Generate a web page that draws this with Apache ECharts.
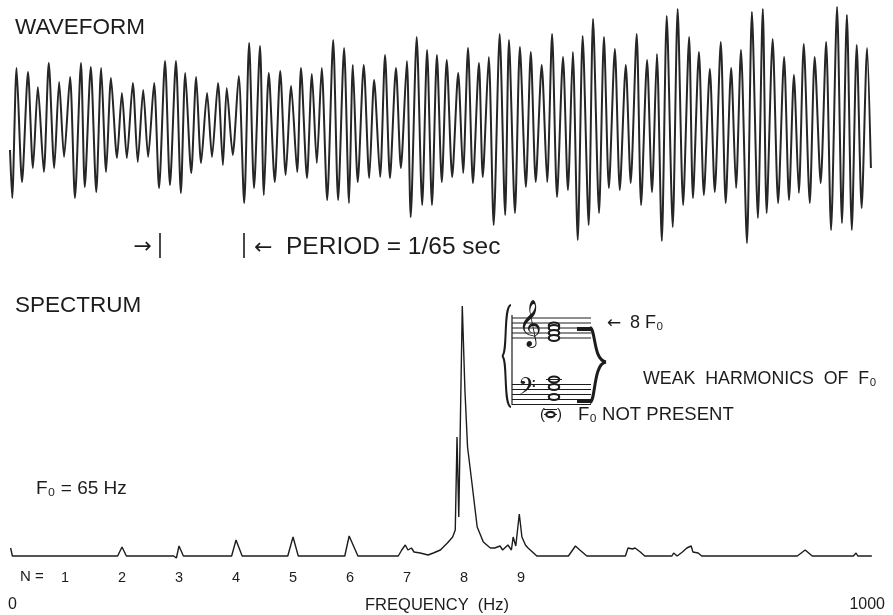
<!DOCTYPE html>
<html>
<head>
<meta charset="utf-8">
<script src="https://cdn.jsdelivr.net/npm/echarts@6/dist/echarts.min.js"></script>
<style>
  html, body { margin: 0; padding: 0; background: #ffffff; }
  #chart { width: 893px; height: 615px; }
</style>
</head>
<body>
<div id="chart"></div>
<script>
// ---- Waveform: successive peaks and troughs of the sung tone ----
// time in milliseconds, amplitude in relative units
const waveTime = [
  0.0, 0.4, 1.2, 2.2, 3.3, 4.2, 5.1, 6.2, 7.1, 8.1,
  9.0, 9.9, 11.0, 11.9, 13.0, 13.7, 14.8, 15.8, 16.7, 17.6,
  18.5, 19.6, 20.5, 21.4, 22.5, 23.4, 24.4, 25.3, 26.4, 27.3,
  28.4, 29.3, 30.4, 31.3, 32.1, 33.2, 34.1, 35.0, 36.1, 37.0,
  38.1, 39.0, 39.7, 40.8, 41.9, 42.9, 43.8, 44.7, 45.8, 46.5,
  47.4, 48.5, 49.5, 50.5, 51.5, 52.6, 53.3, 54.4, 55.3, 56.2,
  57.1, 58.1, 59.2, 60.1, 61.2, 62.1, 62.8, 63.7, 64.8, 65.8,
  66.7, 67.8, 68.7, 69.6, 70.7, 71.6, 72.7, 73.4, 74.5, 75.5,
  76.4, 77.3, 78.2, 79.1, 80.0, 81.0, 82.1, 83.0, 83.9, 84.8,
  85.9, 86.6, 87.7, 88.6, 89.7, 90.7, 91.4, 92.5, 93.4, 94.5,
  95.4, 96.3, 97.4, 98.4, 99.3, 100.2, 101.3, 102.2, 103.1, 104.0,
  104.9, 106.0, 106.8, 107.9, 108.8, 109.7, 110.8, 111.7, 112.8, 113.7,
  114.8, 115.6, 116.7, 117.6, 118.5, 119.4, 120.3, 121.4, 122.3, 123.3,
  124.4, 125.1, 126.2, 127.1, 128.2, 129.1, 130.2, 131.1, 132.1, 133.0,
  133.9, 135.0, 135.9, 137.0, 137.9, 138.6, 139.7, 140.7, 141.8, 142.7,
  143.6, 144.5, 145.4, 146.5, 147.4, 148.5, 149.5, 150.4, 151.5, 152.4,
  153.3, 154.2, 155.1, 156.0, 157.0, 157.7
];
const waveAmp = [
  -0.22, -0.70, 0.60, -0.54, 0.56, -0.40, 0.41, -0.44, 0.65, -0.40,
  0.46, -0.29, 0.51, -0.70, 0.65, -0.59, 0.61, -0.64, 0.60, -0.44,
  0.50, -0.30, 0.35, -0.30, 0.45, -0.34, 0.38, -0.29, 0.45, -0.60,
  0.67, -0.57, 0.67, -0.65, 0.55, -0.45, 0.51, -0.35, 0.35, -0.29,
  0.45, -0.37, 0.40, -0.27, 0.52, -0.75, 0.85, -0.60, 0.82, -0.67,
  0.55, -0.54, 0.57, -0.47, 0.42, -0.44, 0.60, -0.50, 0.54, -0.35,
  0.60, -0.72, 0.88, -0.72, 0.80, -0.75, 0.63, -0.54, 0.63, -0.50,
  0.48, -0.49, 0.73, -0.50, 0.60, -0.40, 0.67, -0.89, 0.91, -0.77,
  0.78, -0.77, 0.73, -0.54, 0.68, -0.49, 0.55, -0.45, 0.80, -0.55,
  0.65, -0.49, 0.71, -0.97, 0.94, -0.87, 0.88, -0.85, 0.81, -0.59,
  0.76, -0.54, 0.63, -0.54, 0.94, -0.69, 0.71, -0.62, 0.76, -1.12,
  0.92, -0.97, 1.09, -0.85, 0.91, -0.60, 0.79, -0.62, 0.63, -0.55,
  0.94, -0.77, 0.68, -0.64, 0.74, -1.13, 1.12, -0.99, 1.19, -0.77,
  0.91, -0.70, 0.76, -0.67, 0.59, -0.64, 0.86, -0.75, 0.60, -0.60,
  0.78, -1.15, 1.16, -0.90, 1.19, -0.85, 0.89, -0.75, 0.71, -0.72,
  0.53, -0.65, 0.84, -0.75, 0.71, -0.55, 0.86, -1.02, 1.21, -0.95,
  1.13, -1.02, 0.83, -0.80, 0.80, -0.40
];

// ---- Spectrum: relative amplitude against frequency ----
const specFreq = [
  3, 5, 125, 130, 135, 189, 192, 195, 200, 255, 260, 267,
  319, 325, 331, 384, 389, 395, 399,
  445, 449, 453, 456, 460, 463, 470, 479, 485, 493,
  501, 507, 510, 512, 514, 518, 521, 524, 529, 535,
  542, 550, 555, 561, 564, 570, 574, 576, 579, 583,
  586, 590, 593, 603, 639, 647, 652, 660,
  704, 707, 712, 715, 721, 726,
  757, 759, 763, 769, 774, 779, 781, 787, 791,
  900, 909, 917, 964, 967, 969, 985
];
const specAmp = [
  3.2, 0, 0, 3.6, 0, 0, -0.8, 4.0, 0, 0, 6.4, 0,
  0, 7.6, 0, 0, 8.0, 3.2, 0,
  0, 2.4, 4.4, 2.4, 3.2, 1.6, 1.2, 0.4, 1.2, 2.4,
  5.2, 7.6, 10.4, 47.6, 15.6, 100, 66.4, 43.6, 29.2, 11.6,
  5.6, 3.2, 3.2, 4.0, 2.4, 4.4, 2.4, 7.6, 4.0, 16.8,
  7.6, 4.4, 3.2, 0, 0, 4.0, 2.4, 0,
  0, 3.2, 2.8, 3.2, 1.6, 0,
  0, 1.2, 0, 1.6, 3.2, 4.0, 1.6, 1.2, 0,
  0, 2.4, 0, 0, 1.2, 0, 0
];

const fundamentalHz = 65;
const harmonicNumbers = [1, 2, 3, 4, 5, 6, 7, 8, 9];
const freqTicks = [0, 1000];
const periodStartMs = 27.4;
const periodMs = 1000 / fundamentalHz;

const FONT = '"Liberation Sans", Arial, Helvetica, sans-serif';
const INK = '#1c1c1c';

const chart = echarts.init(document.getElementById('chart'), null, { renderer: 'canvas' });

// music inset: staff lines, clefs, notes, braces
const trebleLines = [318, 323, 328, 333, 338];
const bassLines = [384.5, 389.5, 394.5, 399.5, 404.5];
const inset = [];
function seg(x1, y1, x2, y2, w) {
  return { type: 'line', shape: { x1: x1, y1: y1, x2: x2, y2: y2 }, style: { stroke: INK, lineWidth: w } };
}
function curve(x1, y1, c1x, c1y, c2x, c2y, x2, y2, w) {
  return { type: 'bezierCurve', shape: { x1: x1, y1: y1, cpx1: c1x, cpy1: c1y, cpx2: c2x, cpy2: c2y, x2: x2, y2: y2 },
           style: { stroke: INK, fill: null, lineWidth: w } };
}
function note(cx, cy, rx, ry) {
  return { type: 'ellipse', shape: { cx: cx, cy: cy, rx: rx || 5.2, ry: ry || 3 }, style: { stroke: INK, fill: '#fff', lineWidth: 2.2 } };
}
trebleLines.concat(bassLines).forEach(y => inset.push(seg(512, y, 591, y, 1)));
inset.push(seg(512, 315, 512, 405, 1.2));
// left system brace
inset.push(curve(511, 305, 503, 306, 508, 354, 502, 356, 2));
inset.push(curve(502, 356, 508, 358, 503, 406, 511, 407, 2));
// clefs
inset.push({ type: 'text', x: 518, y: 306, style: { text: '\u{1D11E}', font: '40px "DejaVu Sans"', fill: INK } });
inset.push({ type: 'text', x: 518, y: 378, style: { text: '\u{1D122}', font: '28px "DejaVu Sans"', fill: INK } });
// harmonics 5 to 8 on the treble staff, 2 to 4 on the bass staff
[[554, 325.5], [554, 328], [554, 333], [554, 338], [554, 379.5], [554, 387], [554, 397]].forEach(p => inset.push(note(p[0], p[1])));
inset.push(seg(546, 379.5, 562, 379.5, 1));
// right brace grouping the weak harmonics
inset.push(seg(577, 329, 591, 329, 4));
inset.push(seg(577, 401, 591, 401, 4));
inset.push(curve(590, 327.5, 596, 330, 593, 360, 606, 362, 3));
inset.push(curve(606, 362, 593, 364, 596, 400, 590, 402.5, 3));
// absent fundamental, in parentheses below the bass staff
inset.push({ type: 'text', x: 540, y: 415, style: { text: '(', font: '15px ' + FONT, fill: INK, verticalAlign: 'middle' } });
inset.push({ type: 'text', x: 557, y: 415, style: { text: ')', font: '15px ' + FONT, fill: INK, verticalAlign: 'middle' } });
inset.push(seg(544, 409.5, 557, 409.5, 1));
inset.push(seg(544, 414.5, 557, 414.5, 1));
inset.push(note(550.5, 414.5, 4.2, 2.6));

const texts = [
  { type: 'text', x: 15, y: 28, style: { text: 'WAVEFORM', font: '22.5px ' + FONT, fill: INK, verticalAlign: 'middle' } },
  { type: 'text', x: 15, y: 306, style: { text: 'SPECTRUM', font: '22.5px ' + FONT, fill: INK, verticalAlign: 'middle' } },
  { type: 'text', x: 152, y: 247, style: { text: '\u2192', font: '22px "DejaVu Sans"', fill: INK, align: 'right', verticalAlign: 'middle' } },
  { type: 'text', x: 254, y: 248, style: { text: '\u2190', font: '22px "DejaVu Sans"', fill: INK, verticalAlign: 'middle' } },
  { type: 'text', x: 286, y: 247, style: { text: 'PERIOD = 1/65 sec', font: '24.5px ' + FONT, fill: INK, verticalAlign: 'middle' } },
  { type: 'text', x: 36, y: 489, style: { text: 'F\u2080 = 65 Hz', font: '19px ' + FONT, fill: INK, verticalAlign: 'middle' } },
  { type: 'text', x: 20, y: 577, style: { text: 'N =', font: '15px ' + FONT, fill: INK, verticalAlign: 'middle' } },
  { type: 'text', x: 437, y: 605, style: { text: 'FREQUENCY  (Hz)', font: '16.5px ' + FONT, fill: INK, align: 'center', verticalAlign: 'middle' } },
  { type: 'text', x: 607, y: 324, style: { text: '\u2190', font: '17px "DejaVu Sans"', fill: INK, verticalAlign: 'middle' } },
  { type: 'text', x: 630, y: 323, style: { text: '8 F\u2080', font: '18px ' + FONT, fill: INK, verticalAlign: 'middle' } },
  { type: 'text', x: 643, y: 379, style: { text: 'WEAK  HARMONICS  OF  F\u2080', font: '17.8px ' + FONT, fill: INK, verticalAlign: 'middle' } },
  { type: 'text', x: 578, y: 415, style: { text: 'F\u2080 NOT PRESENT', font: '18.5px ' + FONT, fill: INK, verticalAlign: 'middle' } }
];

chart.setOption({
  animation: false,
  backgroundColor: '#ffffff',
  grid: [
    { left: 10, width: 862, top: 0, height: 265, outerBoundsMode: 'none' },
    { left: 8, width: 877, top: 306, height: 260, outerBoundsMode: 'none' }
  ],
  xAxis: [
    { gridIndex: 0, type: 'value', min: 0, max: 157.9, show: false },
    {
      gridIndex: 1, type: 'value', min: 0, max: 1000,
      axisLine: { show: false }, axisTick: { show: false }, splitLine: { show: false },
      axisLabel: {
        customValues: freqTicks, margin: 31, fontSize: 16, fontFamily: FONT, color: INK,
        formatter: v => String(v),
        alignMinLabel: 'left', alignMaxLabel: 'right'
      }
    },
    {
      gridIndex: 1, type: 'value', min: 0, max: 1000, position: 'bottom',
      axisLine: { show: false }, axisTick: { show: false }, splitLine: { show: false },
      axisLabel: {
        customValues: harmonicNumbers.map(n => n * fundamentalHz),
        formatter: v => String(Math.round(v / fundamentalHz)),
        margin: 4, fontSize: 14.5, fontFamily: FONT, color: INK
      }
    }
  ],
  yAxis: [
    { gridIndex: 0, type: 'value', min: -1.37, max: 1.28, show: false },
    { gridIndex: 1, type: 'value', min: -4, max: 100, show: false }
  ],
  series: [
    {
      type: 'line', xAxisIndex: 0, yAxisIndex: 0,
      data: waveTime.map((t, i) => [t, waveAmp[i]]),
      showSymbol: false, smooth: 0.25,
      lineStyle: { color: '#262626', width: 2 },
      markLine: {
        silent: true, symbol: ['none', 'none'], label: { show: false },
        lineStyle: { color: INK, width: 1.6, type: 'solid' },
        data: [
          [{ coord: [periodStartMs, -1.05] }, { coord: [periodStartMs, -1.30] }],
          [{ coord: [periodStartMs + periodMs, -1.05] }, { coord: [periodStartMs + periodMs, -1.30] }]
        ]
      }
    },
    {
      type: 'line', xAxisIndex: 1, yAxisIndex: 1,
      data: specFreq.map((f, i) => [f, specAmp[i]]),
      showSymbol: false,
      lineStyle: { color: INK, width: 1.4 }
    }
  ],
  graphic: texts.concat(inset)
});
</script>
</body>
</html>
